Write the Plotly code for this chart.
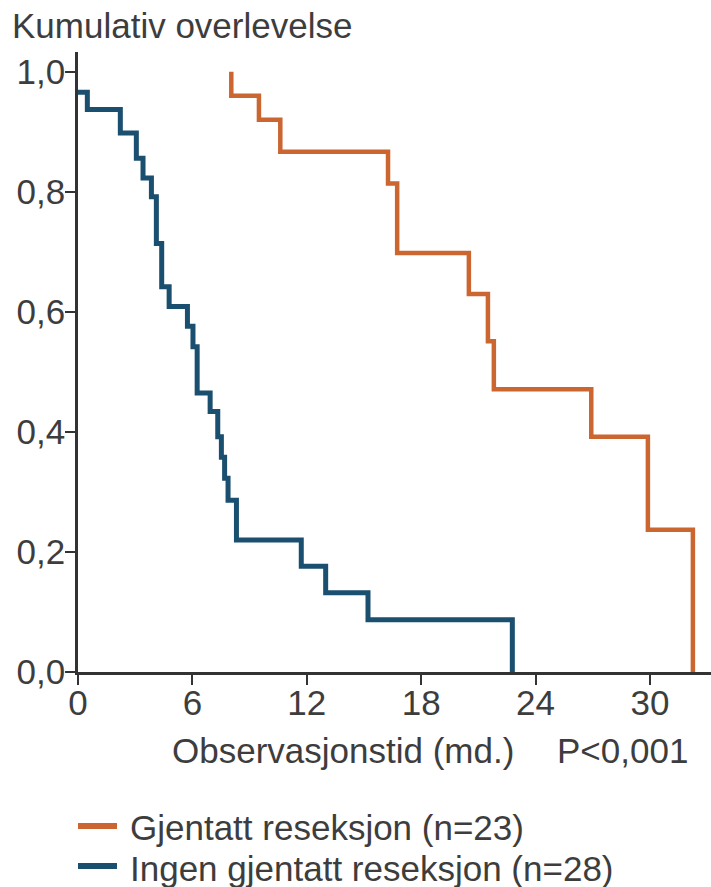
import plotly.graph_objects as go

# ---- data (Kaplan-Meier step curves) ----
series_names = ["Gjentatt reseksjon (n=23)", "Ingen gjentatt reseksjon (n=28)"]
series_colors = ["#CC6631", "#1A4F70"]

orange_time = [8.04, 8.04, 9.49, 10.61, 16.26, 16.74, 20.50, 21.50, 21.81, 26.92, 29.89, 32.25]
orange_surv = [1.000, 0.960, 0.920, 0.867, 0.814, 0.698, 0.630, 0.551, 0.471, 0.392, 0.237, 0.000]

blue_time = [0.0, 0.49, 2.22, 3.06, 3.41, 3.85, 4.11, 4.39, 4.78, 5.74, 6.03, 6.25,
             6.93, 7.33, 7.52, 7.69, 7.87, 8.31, 11.71, 12.99, 15.21, 22.78]
blue_surv = [0.966, 0.937, 0.898, 0.856, 0.823, 0.792, 0.714, 0.642, 0.609, 0.576, 0.542, 0.465,
             0.434, 0.392, 0.358, 0.323, 0.286, 0.220, 0.176, 0.132, 0.087, 0.000]

x_ticks = [0, 6, 12, 18, 24, 30]
y_ticks = [0.0, 0.2, 0.4, 0.6, 0.8, 1.0]
y_title = "Kumulativ overlevelse"
x_title = "Observasjonstid (md.)"
p_text = "P<0,001"

FONT = "Liberation Sans, Arial, sans-serif"
TXT = "#3d3d3d"
AX = "#333333"
FS = 35

W, H = 711, 887
L, R, T, B = 78, 0, 52, 215
PW, PH = W - L - R, H - T - B


def px(xp):
    return (xp - L) / PW


def py(yp):
    return (H - B - yp) / PH


fig = go.Figure()
fig.add_trace(go.Scatter(x=orange_time, y=orange_surv, mode="lines", line_shape="hv",
                         line=dict(color=series_colors[0], width=4.5), name=series_names[0],
                         showlegend=False, cliponaxis=False))
fig.add_trace(go.Scatter(x=blue_time, y=blue_surv, mode="lines", line_shape="hv",
                         line=dict(color=series_colors[1], width=5), name=series_names[1],
                         showlegend=False, cliponaxis=False))

fig.update_layout(
    width=W, height=H,
    margin=dict(l=L, r=R, t=T, b=B, pad=0, autoexpand=False),
    paper_bgcolor="white", plot_bgcolor="white",
    separators=", ",
    font=dict(family=FONT, size=FS, color=TXT),
    xaxis=dict(range=[0, 33.2], tickvals=x_ticks, ticks="outside", ticklen=10, tickwidth=2,
               tickcolor=AX, showline=True, linecolor=AX, linewidth=2.5, showgrid=False,
               zeroline=False, tickfont=dict(size=FS, color=TXT), ticklabelstandoff=-12,
               automargin=False, layer="below traces"),
    yaxis=dict(range=[0, 1.033], tickvals=y_ticks, tickformat=".1f", ticks="outside", ticklen=10,
               tickwidth=2, tickcolor=AX, showline=True, linecolor=AX, linewidth=2.5,
               showgrid=False, zeroline=False, tickfont=dict(size=FS, color=TXT),
               ticklabelstandoff=-7, automargin=False, layer="below traces"),
)

annos = [
    dict(text=y_title, x=px(10), y=py(26), xanchor="left", yanchor="middle"),
    dict(text=x_title, x=px(343), y=py(750), xanchor="center", yanchor="middle"),
    dict(text=p_text, x=px(690), y=py(750), xanchor="right", yanchor="middle"),
    dict(text=series_names[0], x=px(128), y=py(828), xanchor="left", yanchor="middle"),
    dict(text=series_names[1], x=px(128), y=py(868), xanchor="left", yanchor="middle"),
]
for a in annos:
    fig.add_annotation(xref="paper", yref="paper", showarrow=False,
                       font=dict(family=FONT, size=FS, color=TXT), **a)

for color, ypix in zip(series_colors, [826, 866]):
    fig.add_shape(type="line", xref="paper", yref="paper", x0=px(78), x1=px(117),
                  y0=py(ypix), y1=py(ypix), line=dict(color=color, width=6))

fig.write_html(
    "out.html",
    config={"displayModeBar": False},
    post_script="document.body.style.margin='0';document.body.style.padding='0';"
                "document.body.style.overflow='hidden';",
)
